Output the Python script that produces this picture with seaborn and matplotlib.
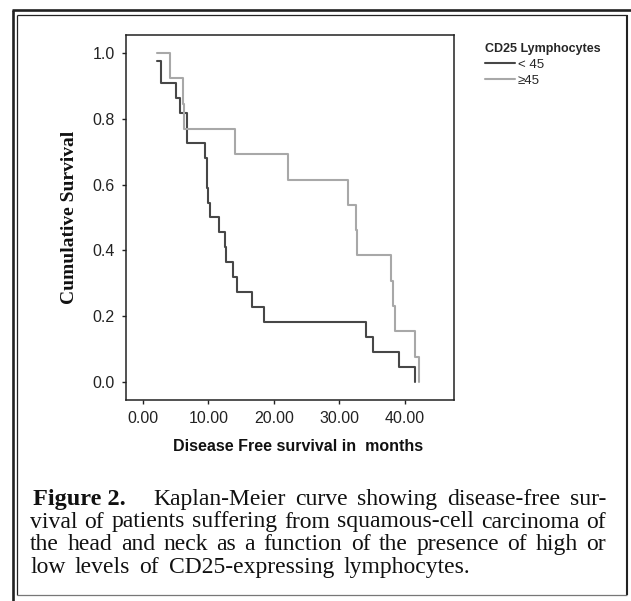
import matplotlib
matplotlib.use("Agg")
import matplotlib.pyplot as plt
from matplotlib.lines import Line2D
import pandas as pd
import seaborn as sns

# disease free survival (months, cumulative survival)
months_low = [2.2, 2.75, 5.1, 5.65, 6.7, 9.45, 9.7, 9.75, 9.85, 10.25, 11.65,
              12.5, 12.6, 13.7, 14.3, 16.6, 18.5, 34.0, 35.1, 39.1, 41.5]
surv_low = [0.977, 0.909, 0.864, 0.818, 0.727, 0.682, 0.636, 0.591, 0.545, 0.5,
            0.455, 0.409, 0.364, 0.318, 0.273, 0.227, 0.182, 0.136, 0.091,
            0.045, 0.0]
months_high = [2.2, 4.1, 6.1, 6.2, 14.05, 22.2, 31.35, 32.6, 32.75, 37.95,
               38.15, 38.5, 41.5, 42.1]
surv_high = [1.0, 0.923, 0.846, 0.769, 0.692, 0.615, 0.538, 0.462, 0.385,
             0.308, 0.231, 0.154, 0.077, 0.0]
groups = ["< 45", "\u226545"]
group_colors = ["#474747", "#a8a8a8"]

x_ticks = [0, 10, 20, 30, 40]
y_ticks = [0.0, 0.2, 0.4, 0.6, 0.8, 1.0]

caption_lines = [
    "Kaplan-Meier curve showing disease-free sur-",
    "vival of patients suffering from squamous-cell carcinoma of",
    "the head and neck as a function of the presence of high or",
    "low levels of CD25-expressing lymphocytes.",
]

W, H = 631, 601

df = pd.concat([
    pd.DataFrame({"month": months_low, "survival": surv_low, "group": groups[0]}),
    pd.DataFrame({"month": months_high, "survival": surv_high, "group": groups[1]}),
], ignore_index=True)

sns.set_style("ticks")
plt.rcParams["font.family"] = ["Liberation Sans", "DejaVu Sans"]

fig = plt.figure(figsize=(W / 100, H / 100), dpi=100)
# axes box in pixels: left 126, right 454, top 35, bottom 400
ax = fig.add_axes([126 / W, 1 - 400 / H, (454 - 126) / W, (400 - 35) / H])

sns.lineplot(data=df, x="month", y="survival", hue="group",
             palette=dict(zip(groups, group_colors)), estimator=None,
             sort=False, drawstyle="steps-post", linewidth=1.5, ax=ax)

ax.set_xlim(-2.6, 47.5)
ax.set_ylim(-0.055, 1.055)
ax.set_xticks(x_ticks)
ax.set_xticklabels([f"{v:.2f}" for v in x_ticks])
ax.set_yticks(y_ticks)
ax.set_yticklabels([f"{v:.1f}" for v in y_ticks])
ax.tick_params(axis="both", length=3, width=1, pad=5, labelsize=11.5,
               color="#222222", labelcolor="#222222")
for sp in ax.spines.values():
    sp.set_visible(True)
    sp.set_color("#222222")
    sp.set_linewidth(1.1)

ax.set_xlabel("Disease Free survival in  months", fontsize=11.5,
              fontweight="bold", color="#111111")
ax.xaxis.set_label_coords(0.524, -0.108)
ax.set_ylabel("Cumulative Survival", fontsize=14, fontweight="bold",
              family=["Liberation Serif", "DejaVu Serif"], color="#111111")
ax.yaxis.set_label_coords(-0.146, 0.5)

sns.move_legend(ax, "upper left", bbox_to_anchor=(478 / W, 1 - 36 / H),
                bbox_transform=fig.transFigure, frameon=False,
                title="CD25 Lymphocytes",
                title_fontproperties={"weight": "bold", "size": 9},
                fontsize=9.5, alignment="left", borderpad=0,
                handlelength=2.3, handletextpad=0.2, labelspacing=0.3)


def px(x, y):
    return x / W, 1 - y / H


def frame_line(x0, y0, x1, y1, lw, color):
    (fx0, fy0), (fx1, fy1) = px(x0, y0), px(x1, y1)
    fig.add_artist(Line2D([fx0, fx1], [fy0, fy1], transform=fig.transFigure,
                          lw=lw, color=color, solid_capstyle="butt"))


# double border round the figure
frame_line(13, 10, 13, 601, 1.9, "#222222")
frame_line(12, 10, 631, 10, 1.9, "#222222")
frame_line(17, 15, 17, 595, 0.9, "#222222")
frame_line(17, 15, 627, 15, 0.9, "#222222")
frame_line(627, 15, 627, 595, 1.5, "#222222")
frame_line(17, 595, 627, 595, 0.9, "#777777")

# caption, justified like the printed page
serif = ["Liberation Serif", "DejaVu Serif"]
cap_size = 17
baselines = [505, 527.5, 550, 573]
fig.canvas.draw()
renderer = fig.canvas.get_renderer()


def justify(words, x0, x1, y, **kw):
    texts = [fig.text(0, 1 - y / H, w, va="baseline", **kw) for w in words]
    widths = [t.get_window_extent(renderer).width for t in texts]
    gap = (x1 - x0 - sum(widths)) / max(len(words) - 1, 1)
    x = x0
    for t, w in zip(texts, widths):
        t.set_x(x / W)
        x += w + gap


fig.text(33 / W, 1 - baselines[0] / H, "Figure 2.", va="baseline",
         family=serif, fontsize=cap_size + 0.5, fontweight="bold",
         color="#111111")
line_ends = [606, 606, 606, 470]
line_starts = [153, 30, 30, 30]
for line, x0, x1, y in zip(caption_lines, line_starts, line_ends, baselines):
    justify(line.split(), x0, x1, y, family=serif, fontsize=cap_size,
            color="#111111")

fig.savefig("out.png", dpi=100)
